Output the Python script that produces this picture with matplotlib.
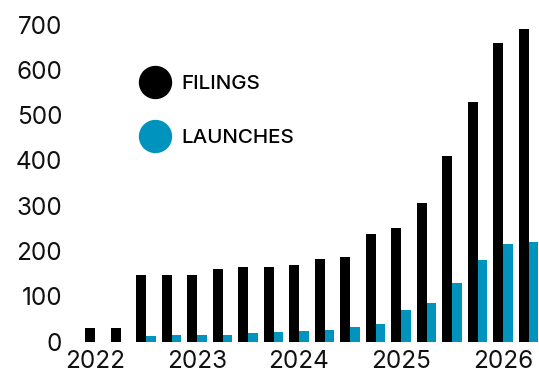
import numpy as np
import matplotlib
matplotlib.use("Agg")
import matplotlib.pyplot as plt
from matplotlib.lines import Line2D

# quarterly values, 2022 Q1 .. 2026 Q2
filings = [30, 30, 148, 148, 148, 160, 165, 165, 169, 182, 187, 237, 250, 305, 410, 530, 660, 690]
launches = [0, 0, 12, 14, 14, 14, 19, 21, 24, 26, 32, 40, 69, 85, 129, 180, 215, 219]
year_labels = ["2022", "2023", "2024", "2025", "2026"]
yticks = [0, 100, 200, 300, 400, 500, 600, 700]

BLACK = "#000000"
BLUE = "#0093be"

plt.rcParams['font.family'] = ['Inter', 'DejaVu Sans']

fig = plt.figure(figsize=(5.39, 3.78), dpi=100)
W, H = 539, 378
# axes placed in pixel terms
left, right, bottom, top = 65, 539, 378 - 341.7, 378 - 24.5
ax = fig.add_axes([left / W, bottom / H, (right - left) / W, (top - bottom) / H])

x = np.arange(len(filings))
w = 0.39
ax.bar(x - w / 2, filings, width=w, color=BLACK)
ax.bar(x + w / 2, launches, width=w, color=BLUE)

step = 25.5
ax.set_xlim(-(95 - left) / step, (right - 95) / step)
ax.set_ylim(0, 700)

ax.set_xticks(x[::4])
ax.set_xticklabels(year_labels)
ax.set_yticks(yticks)
ax.tick_params(axis="both", length=0, labelsize=17.5, colors="#111111")
ax.tick_params(axis="y", pad=2)
ax.tick_params(axis="x", pad=6)
for s in ax.spines.values():
    s.set_visible(False)

handles = [
    Line2D([], [], marker="o", linestyle="", markersize=23, color=BLACK, label="FILINGS"),
    Line2D([], [], marker="o", linestyle="", markersize=23, color=BLUE, label="LAUNCHES"),
]
leg = ax.legend(handles=handles, loc="center left", bbox_to_anchor=(134 / W, 1 - 111 / H),
                bbox_transform=fig.transFigure, frameon=False, fontsize=14.8,
                handletextpad=0.3, labelspacing=1.75, borderpad=0, borderaxespad=0)
for t in leg.get_texts():
    t.set_fontweight("medium")

fig.savefig("out.png", dpi=100)
